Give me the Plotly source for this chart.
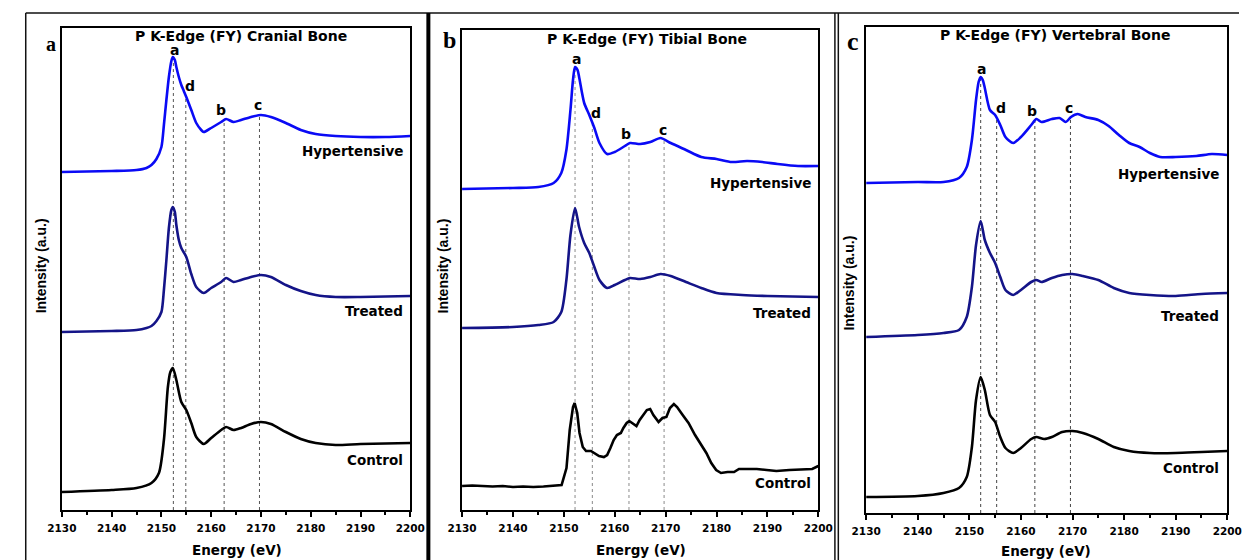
import numpy as np
import plotly.graph_objects as go

# ---------------- data: P K-edge fluorescence-yield XANES ----------------
# Cranial bone
cranial_hyp_e = [2130, 2140, 2145, 2147, 2148, 2149, 2150, 2150.5, 2151, 2151.5, 2152, 2152.3, 2152.7,
                 2153, 2153.5, 2154, 2154.5, 2155, 2156, 2157, 2158, 2158.5, 2159, 2160, 2162, 2163,
                 2164.5, 2166, 2168, 2170, 2172, 2175, 2178, 2181, 2185, 2190, 2195, 2200]
cranial_hyp_i = [3.38, 3.39, 3.40, 3.42, 3.45, 3.51, 3.63, 3.85, 4.10, 4.33, 4.49, 4.53, 4.50,
                 4.43, 4.33, 4.25, 4.19, 4.13, 4.00, 3.87, 3.80, 3.78, 3.79, 3.82, 3.88, 3.91,
                 3.88, 3.90, 3.93, 3.95, 3.93, 3.87, 3.80, 3.76, 3.74, 3.73, 3.73, 3.74]
cranial_tre_e = [2130, 2140, 2145, 2147, 2148, 2149, 2150, 2150.5, 2151, 2151.5, 2152, 2152.3, 2152.7,
                 2153, 2153.5, 2154, 2155, 2156, 2157, 2158.5, 2160, 2162, 2163, 2164.5, 2166, 2168,
                 2170, 2172, 2175, 2178, 2181, 2185, 2190, 2200]
cranial_tre_i = [1.78, 1.79, 1.80, 1.82, 1.84, 1.89, 1.98, 2.20, 2.50, 2.82, 3.00, 3.03, 2.98,
                 2.85, 2.70, 2.62, 2.53, 2.36, 2.23, 2.17, 2.22, 2.28, 2.32, 2.28, 2.30, 2.33,
                 2.35, 2.33, 2.25, 2.19, 2.15, 2.13, 2.13, 2.14]
cranial_con_e = [2130, 2140, 2145, 2148, 2149.5, 2150.5, 2151.3, 2151.8, 2152.3, 2153, 2154, 2155,
                 2156, 2157, 2158.5, 2160, 2162, 2163, 2164.5, 2166, 2168, 2170, 2172, 2175, 2178,
                 2181, 2185, 2190, 2200]
cranial_con_i = [0.18, 0.20, 0.22, 0.27, 0.37, 0.70, 1.23, 1.38, 1.42, 1.30, 1.08, 1.00,
                 0.87, 0.73, 0.66, 0.72, 0.80, 0.83, 0.80, 0.82, 0.86, 0.88, 0.86, 0.78, 0.71,
                 0.67, 0.65, 0.66, 0.67]

# Tibial bone
tibial_hyp_e = [2130, 2140, 2145, 2148, 2149.5, 2150.5, 2151.3, 2151.8, 2152.2, 2152.7, 2153, 2154,
                2155, 2156, 2157, 2158.5, 2160, 2162, 2163, 2165, 2167, 2169, 2171, 2174, 2177,
                2180, 2183, 2186, 2189, 2192, 2196, 2200]
tibial_hyp_i = [3.21, 3.22, 3.23, 3.27, 3.37, 3.60, 4.00, 4.30, 4.43, 4.40, 4.33, 4.07,
                3.95, 3.82, 3.67, 3.56, 3.58, 3.64, 3.67, 3.66, 3.68, 3.72, 3.67, 3.60, 3.53,
                3.51, 3.48, 3.49, 3.48, 3.46, 3.44, 3.44]
tibial_tre_e = [2130, 2140, 2145, 2148, 2149.5, 2150.5, 2151.3, 2152.2, 2153, 2154, 2155, 2156,
                2157, 2158.5, 2160, 2162, 2163, 2165, 2167, 2169, 2171, 2174, 2177, 2180, 2185,
                2190, 2200]
tibial_tre_i = [1.82, 1.83, 1.85, 1.88, 1.98, 2.30, 2.75, 3.02, 2.83, 2.67, 2.57, 2.43,
                2.30, 2.22, 2.25, 2.30, 2.32, 2.31, 2.33, 2.36, 2.34, 2.28, 2.22, 2.17, 2.15,
                2.14, 2.13]
tibial_con_e = [2130, 2132, 2134, 2136, 2138, 2140, 2142, 2144, 2146, 2148,
                2149.56, 2150.52, 2151.16, 2151.8, 2152.12, 2152.63, 2153.08, 2153.72, 2154.36, 2155.32,
                2155.96, 2156.92, 2157.87, 2158.51, 2159.15, 2159.79, 2160.43, 2161.2, 2161.7, 2162.35,
                2162.86, 2163.5, 2164.27, 2164.9, 2165.54, 2166.31, 2166.96, 2167.59, 2168.61, 2169.38,
                2170.15, 2170.85, 2171.62, 2172.25, 2173.35, 2174.5, 2175.78, 2177.05, 2178.0, 2178.97,
                2179.93, 2180.88, 2182.17, 2183.45, 2184.41, 2186.0, 2187.92, 2189.84, 2191.76, 2194.31,
                2196.88, 2198.8, 2200]
tibial_con_i = [0.24, 0.245, 0.24, 0.235, 0.24, 0.23, 0.235, 0.23, 0.235, 0.24,
                0.25, 0.42, 0.80, 1.03, 1.07, 0.97, 0.77, 0.63, 0.59, 0.59,
                0.57, 0.54, 0.53, 0.55, 0.62, 0.70, 0.75, 0.77, 0.82, 0.87,
                0.89, 0.87, 0.84, 0.90, 0.94, 1.00, 1.01, 0.95, 0.88, 0.92,
                0.93, 1.02, 1.06, 1.03, 0.95, 0.87, 0.75, 0.65, 0.57, 0.47,
                0.40, 0.37, 0.38, 0.38, 0.41, 0.41, 0.41, 0.40, 0.39, 0.40,
                0.41, 0.41, 0.44]

# Vertebral bone
vertebral_hyp_e = [2130, 2140, 2145, 2148, 2149.5, 2150.5, 2151.3, 2151.8, 2152.2, 2152.6, 2153, 2154,
                   2155, 2156, 2157, 2158.5, 2160, 2162, 2163, 2164, 2166, 2167.5, 2168.7, 2169.7,
                   2171, 2172.5, 2175, 2177, 2179, 2181, 2183, 2185, 2187, 2190, 2194, 2197, 2200]
vertebral_hyp_i = [3.30, 3.31, 3.31, 3.35, 3.46, 3.73, 4.13, 4.31, 4.36, 4.33, 4.25, 4.03,
                   3.98, 3.88, 3.76, 3.70, 3.76, 3.88, 3.94, 3.91, 3.94, 3.95, 3.91, 3.96,
                   3.99, 3.96, 3.93, 3.87, 3.78, 3.70, 3.66, 3.60, 3.56, 3.56, 3.57, 3.59, 3.58]
vertebral_tre_e = [2130, 2140, 2145, 2148, 2149.5, 2150.5, 2151.3, 2152.2, 2153, 2154, 2155, 2156,
                   2157, 2158.5, 2160, 2162, 2163, 2164, 2166, 2168, 2170, 2172, 2175, 2178, 2181,
                   2185, 2190, 2195, 2200]
vertebral_tre_i = [1.76, 1.78, 1.80, 1.83, 1.96, 2.26, 2.68, 2.92, 2.73, 2.60, 2.50, 2.36,
                   2.23, 2.18, 2.23, 2.31, 2.33, 2.31, 2.35, 2.38, 2.39, 2.37, 2.33, 2.25, 2.20,
                   2.18, 2.17, 2.19, 2.20]
vertebral_con_e = [2130, 2140, 2145, 2148, 2149.5, 2150.5, 2151.3, 2152.2, 2153, 2154, 2155, 2156,
                   2157, 2158.5, 2160, 2162, 2163, 2164.5, 2166, 2168, 2170, 2172, 2175, 2178, 2181,
                   2185, 2190, 2195, 2200]
vertebral_con_i = [0.16, 0.17, 0.20, 0.25, 0.36, 0.66, 1.13, 1.36, 1.23, 0.98, 0.91, 0.76,
                   0.65, 0.60, 0.65, 0.74, 0.76, 0.74, 0.76, 0.81, 0.82, 0.80, 0.74, 0.66, 0.62,
                   0.60, 0.60, 0.61, 0.62]

# Feature energies (eV) marked a, d, b, c
peak_names = ["a", "d", "b", "c"]
cranial_peaks = [2152.4, 2154.9, 2162.6, 2169.7]
tibial_peaks = [2152.2, 2155.6, 2162.8, 2169.7]
vertebral_peaks = [2152.2, 2155.3, 2162.7, 2169.6]

group_names = ["Hypertensive", "Treated", "Control"]
panel_titles = ["P K-Edge (FY) Cranial Bone", "P K-Edge (FY) Tibial Bone", "P K-Edge (FY) Vertebral Bone"]
panel_letters = ["a", "b", "c"]
x_ticks = [2130, 2140, 2150, 2160, 2170, 2180, 2190, 2200]

# ---------------- layout geometry (pixels on a 1254 x 560 canvas) ----------------
W, H = 1254, 560
px = lambda x: x / W
py = lambda y: 1 - y / H

panels = [
    dict(x0=48, x1=405, top=28, bottom=510, ymax=4.82, dotcolor="#555555",
         curves=[(cranial_hyp_e, cranial_hyp_i), (cranial_tre_e, cranial_tre_i), (cranial_con_e, cranial_con_i)],
         peaks=cranial_peaks, label_y=[3.59, 1.99, 0.50], label_x=2199.0,
         title_x=232, title_y=36, letter=(37, 44, 20), ytitle=(27, 266), xtitle=(227, 550)),
    dict(x0=458, x1=823, top=30, bottom=510, ymax=4.80, dotcolor="#8a8a8a",
         curves=[(tibial_hyp_e, tibial_hyp_i), (tibial_tre_e, tibial_tre_i), (tibial_con_e, tibial_con_i)],
         peaks=tibial_peaks, label_y=[3.27, 1.97, 0.27], label_x=2198.9,
         title_x=647, title_y=39, letter=(445, 40, 24), ytitle=(439, 266), xtitle=(641, 550)),
    dict(x0=872, x1=1242, top=27, bottom=513, ymax=4.86, dotcolor="#444444",
         curves=[(vertebral_hyp_e, vertebral_hyp_i), (vertebral_tre_e, vertebral_tre_i), (vertebral_con_e, vertebral_con_i)],
         peaks=vertebral_peaks, label_y=[3.39, 1.97, 0.45], label_x=2198.7,
         title_x=1065, title_y=35, letter=(859, 42, 26), ytitle=(854, 283), xtitle=(1056, 551)),
]
colors = ["#0a0af5", "#141488", "#000000"]
label_xshift = [1, 4, -3, -1]
label_yshift = [-1, 1, 1, 1]

BOLD = "DejaVu Sans"

fig = go.Figure()
annotations = []
layout_axes = {}

for k, p in enumerate(panels):
    suffix = "" if k == 0 else str(k + 1)
    xa, ya = "x" + suffix, "y" + suffix

    # dotted guides from the hypertensive curve down to the axis
    hyp_e, hyp_i = p["curves"][0]
    for j, e in enumerate(p["peaks"]):
        top = float(np.interp(e, hyp_e, hyp_i))
        fig.add_trace(go.Scatter(x=[e, e], y=[0, top], mode="lines", xaxis=xa, yaxis=ya,
                                 line=dict(color=p["dotcolor"], width=1, dash="dot"),
                                 hoverinfo="skip", showlegend=False))
        annotations.append(dict(x=e, y=top, xref=xa, yref=ya, text=peak_names[j], showarrow=False,
                                xanchor="center", yanchor="bottom", xshift=label_xshift[j],
                                yshift=label_yshift[j], borderpad=0,
                                font=dict(family=BOLD, size=14, color="black", weight="bold")))

    for c, (e, i) in enumerate(p["curves"]):
        noisy = (k == 1 and c == 2)
        fig.add_trace(go.Scatter(x=e, y=i, mode="lines", xaxis=xa, yaxis=ya, name=group_names[c],
                                 line=dict(color=colors[c], width=2.6,
                                           shape="linear" if noisy else "spline",
                                           smoothing=0.7 if not noisy else None),
                                 showlegend=False))
        annotations.append(dict(x=p["label_x"], y=p["label_y"][c], xref=xa, yref=ya,
                                text=group_names[c], showarrow=False, xanchor="right", yanchor="middle",
                                font=dict(family=BOLD, size=13.5, color="black", weight="bold")))

    layout_axes["xaxis" + suffix] = dict(
        domain=[px(p["x0"]), px(p["x1"])], anchor=ya, range=[2130, 2200],
        tickmode="array", tickvals=x_ticks, ticks="outside", ticklen=5, tickwidth=1.5, tickcolor="black",
        minor=dict(tickmode="linear", tick0=2135, dtick=10, ticks="outside", ticklen=3,
                   tickwidth=1.5, tickcolor="black"),
        showline=True, linecolor="black", linewidth=1.5, mirror=True, showgrid=False, zeroline=False,
        ticklabelstandoff=3,
        tickfont=dict(family=BOLD, size=10.5, color="black", weight="bold"))
    layout_axes["yaxis" + suffix] = dict(
        domain=[py(p["bottom"]), py(p["top"])], anchor=xa, range=[0, p["ymax"]],
        showticklabels=False, ticks="", showline=True, linecolor="black", linewidth=1.5, mirror=True,
        showgrid=False, zeroline=False)

    annotations.append(dict(x=px(p["title_x"]), y=py(p["title_y"]), xref="paper", yref="paper",
                            text=panel_titles[k], showarrow=False, xanchor="center", yanchor="middle",
                            font=dict(family=BOLD, size=14, color="black", weight="bold")))
    lx, ly, ls = p["letter"]
    annotations.append(dict(x=px(lx), y=py(ly), xref="paper", yref="paper", text=panel_letters[k],
                            showarrow=False, xanchor="center", yanchor="middle",
                            font=dict(family="Liberation Serif", size=ls, color="black", weight="bold")))
    tx, ty = p["ytitle"]
    annotations.append(dict(x=px(tx), y=py(ty), xref="paper", yref="paper", text="Intensity (a.u.)",
                            textangle=-90, showarrow=False, xanchor="center", yanchor="middle",
                            font=dict(family="Liberation Sans", size=14, color="black", weight="bold")))
    ex, ey = p["xtitle"]
    annotations.append(dict(x=px(ex), y=py(ey), xref="paper", yref="paper", text="Energy (eV)",
                            showarrow=False, xanchor="center", yanchor="middle",
                            font=dict(family=BOLD, size=13.5, color="black", weight="bold")))

# outer frame and panel separators
frame = dict(type="line", xref="paper", yref="paper", line=dict(color="#111111", width=1.5))
shapes = [
    dict(frame, x0=px(11), x1=1, y0=py(13), y1=py(13)),
    dict(frame, x0=px(11), x1=px(11), y0=py(13), y1=0),
    dict(frame, x0=px(423.5), x1=px(423.5), y0=py(13), y1=0, line=dict(color="black", width=4)),
    dict(frame, x0=px(840), x1=px(840), y0=py(13), y1=0),
    dict(frame, x0=px(843.5), x1=px(843.5), y0=py(13), y1=0),
]

fig.update_layout(width=W, height=H, margin=dict(l=0, r=0, t=0, b=0),
                  paper_bgcolor="white", plot_bgcolor="white", showlegend=False,
                  annotations=annotations, shapes=shapes, **layout_axes)

fig.write_html("out.html")
